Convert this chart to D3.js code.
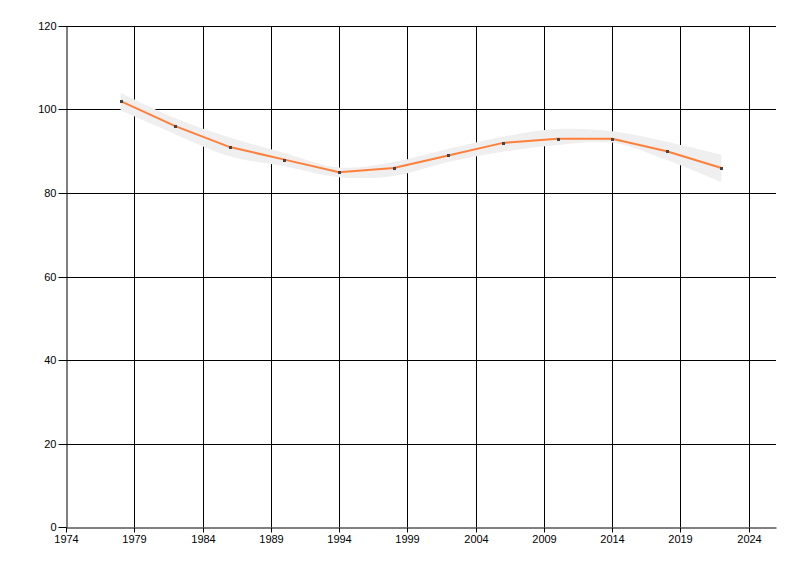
<!DOCTYPE html>
<html><head><meta charset="utf-8">
<script src="https://cdn.jsdelivr.net/npm/d3@7"></script>
<style>body{margin:0;background:#fff}text{font-family:"Liberation Sans",Arial,sans-serif;font-size:11px;fill:#000}</style>
</head><body><svg id="c" width="800" height="576"></svg>
<script>
const years  = [1978,1982,1986,1990,1994,1998,2002,2006,2010,2014,2018,2022];
const values = [102,96,91,88,85,86,89,92,93,93,90,86];
const upper  = [104.0,97.9,93.3,89.6,86.1,87.4,90.6,93.5,95.3,94.8,92.3,89.2];
const lower  = [99.8,94.1,88.8,86.4,83.8,84.1,87.4,89.9,91.5,92.1,87.9,82.6];
const xTicks = [1974,1979,1984,1989,1994,1999,2004,2009,2014,2019,2024];
const yTicks = [0,20,40,60,80,100,120];

const svg = d3.select("#c");
const L=66,R=776,T=26,B=527;
const x = d3.scaleLinear().domain([1974,2026]).range([L,R]);
const y = d3.scaleLinear().domain([0,120]).range([B,T]);
const px = v => Math.round(v)+0.5;

// grid
svg.append("g").selectAll("line").data(yTicks.filter(d=>d>0)).join("line")
  .attr("x1",L).attr("x2",R).attr("y1",d=>px(y(d))).attr("y2",d=>px(y(d)))
  .attr("stroke","#000");
svg.append("g").selectAll("line").data(xTicks.filter(d=>d>1974)).join("line")
  .attr("y1",T).attr("y2",B).attr("x1",d=>px(x(d))).attr("x2",d=>px(x(d)))
  .attr("stroke","#000");

// band
const band = d3.area().x((d,i)=>x(years[i])).y0((d,i)=>y(lower[i])).y1((d,i)=>y(upper[i])).curve(d3.curveCatmullRom);
svg.append("path").datum(years).attr("d",band).attr("fill","#efefef");

// line
const line = d3.line().x((d,i)=>x(years[i])).y((d,i)=>y(values[i]));
svg.append("path").datum(values).attr("d",line).attr("fill","none").attr("stroke","#ff7f3a").attr("stroke-width",2);

// points
svg.append("g").selectAll("rect").data(values).join("rect")
  .attr("x",(d,i)=>Math.round(x(years[i]))-1).attr("y",d=>Math.round(y(d))-1).attr("width",3).attr("height",3).attr("fill","#444");

// axes
const xa = svg.append("g").attr("transform",`translate(0,${B+0.5})`)
  .call(d3.axisBottom(x).tickValues(xTicks).tickFormat(d3.format("d")).tickSize(5).tickSizeOuter(0));
xa.select(".domain").attr("stroke","#000");
xa.selectAll(".tick").attr("transform",d=>`translate(${px(x(d))},0)`);
xa.selectAll("text").attr("dy","0.9em").attr("y",6);
const ya = svg.append("g").attr("transform",`translate(${L+0.5},0)`)
  .call(d3.axisLeft(y).tickValues(yTicks).tickSize(8).tickSizeOuter(0));
ya.select(".domain").attr("stroke","#000");
ya.selectAll(".tick").attr("transform",d=>`translate(0,${px(y(d))})`);
ya.selectAll("text").attr("x",-10);
svg.selectAll(".tick text").style("font-family",'"Liberation Sans",Arial,sans-serif').style("font-size","11px").attr("fill","#000");
</script></body></html>
